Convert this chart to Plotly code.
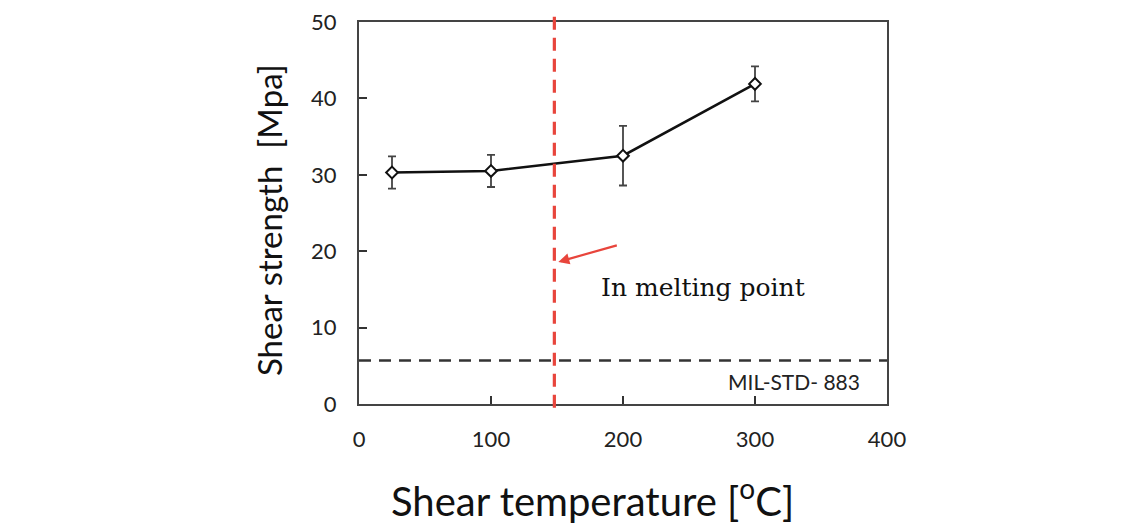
import plotly.graph_objects as go

temps = [25, 100, 200, 300]
strength = [30.3, 30.5, 32.5, 41.9]
err = [2.1, 2.1, 3.9, 2.3]
melt_x = 148
mil_std = 5.7
x_ticks = [0, 100, 200, 300, 400]
y_ticks = [0, 10, 20, 30, 40, 50]

# page body has an 8px margin; plot area target (screen px): x 359..887, y 22..404
OFF = 8
W, H = 1145, 524
L, R, T, B = 359 - OFF, W - (887 - OFF), 22 - OFF, H - (404 - OFF)
PW, PH = W - L - R, H - T - B


def px_to_paper(sx, sy):
    fx, fy = sx - OFF, sy - OFF
    return (fx - L) / PW, (H - B - fy) / PH


fig = go.Figure()
fig.add_trace(go.Scatter(
    x=temps, y=strength, mode="lines+markers",
    line=dict(color="#111111", width=2.6),
    marker=dict(symbol="diamond", size=9, color="white",
                line=dict(color="#111111", width=2)),
    error_y=dict(type="data", array=err, color="#444444", thickness=1.8, width=4),
    showlegend=False, cliponaxis=False,
))

# MIL-STD line
fig.add_shape(type="line", xref="x", yref="y", x0=0, x1=400, y0=mil_std, y1=mil_std,
              line=dict(color="#333333", width=2.5, dash="12px,8px"), layer="above")
# melting point line
fig.add_shape(type="line", xref="x", yref="paper", x0=melt_x, x1=melt_x, y0=-0.01, y1=1.03,
              line=dict(color="#e8453c", width=3.2, dash="13px,8px"), layer="above")

fig.add_annotation(x=151, y=18.6, xref="x", yref="y", text="", showarrow=True,
                   ax=60, ay=-17, arrowhead=2, arrowsize=1, arrowwidth=2.2,
                   arrowcolor="#e8453c")
fig.add_annotation(x=260.5, y=15.3, xref="x", yref="y", text="In melting point",
                   showarrow=False, xanchor="center", yanchor="middle",
                   font=dict(family="DejaVu Serif", size=25, color="#111111"))
fig.add_annotation(x=381, y=3.0, xref="x", yref="y", text="MIL-STD- 883",
                   showarrow=False, xanchor="right", yanchor="middle",
                   font=dict(family="Lato", size=21, color="#222222"))

xt = px_to_paper(592, 498)
fig.add_annotation(x=xt[0], y=xt[1], xref="paper", yref="paper",
                   text="Shear temperature [<sup>o</sup>C]",
                   showarrow=False, xanchor="center", yanchor="middle",
                   font=dict(family="Lato", size=40, color="#111111"))
yt = px_to_paper(269, 220)
fig.add_annotation(x=yt[0], y=yt[1], xref="paper", yref="paper",
                   text="Shear strength  [Mpa]", textangle=-90,
                   showarrow=False, xanchor="center", yanchor="middle",
                   font=dict(family="Lato", size=33, color="#111111"))

fig.update_layout(
    width=W, height=H,
    margin=dict(l=L, r=R, t=T, b=B, autoexpand=False),
    paper_bgcolor="white", plot_bgcolor="white",
    font=dict(family="Lato", color="#222222"),
)

fig.update_xaxes(range=[0, 400], tickvals=x_ticks, ticks="inside", ticklen=8, tickwidth=1.5,
                 tickcolor="#333333", showline=True, linecolor="#444444", linewidth=2,
                 mirror=True, showgrid=False, zeroline=False, ticklabeloverflow="allow",
                 tickfont=dict(family="Lato", size=22, color="#222222"), ticklabelstandoff=15)
fig.update_yaxes(range=[0, 50], tickvals=y_ticks, ticks="inside", ticklen=8, tickwidth=1.5,
                 tickcolor="#333333", showline=True, linecolor="#444444", linewidth=2,
                 mirror=True, showgrid=False, zeroline=False, ticklabeloverflow="allow",
                 tickfont=dict(family="Lato", size=22, color="#222222"), ticklabelstandoff=16)

fig.write_html("out.html")
